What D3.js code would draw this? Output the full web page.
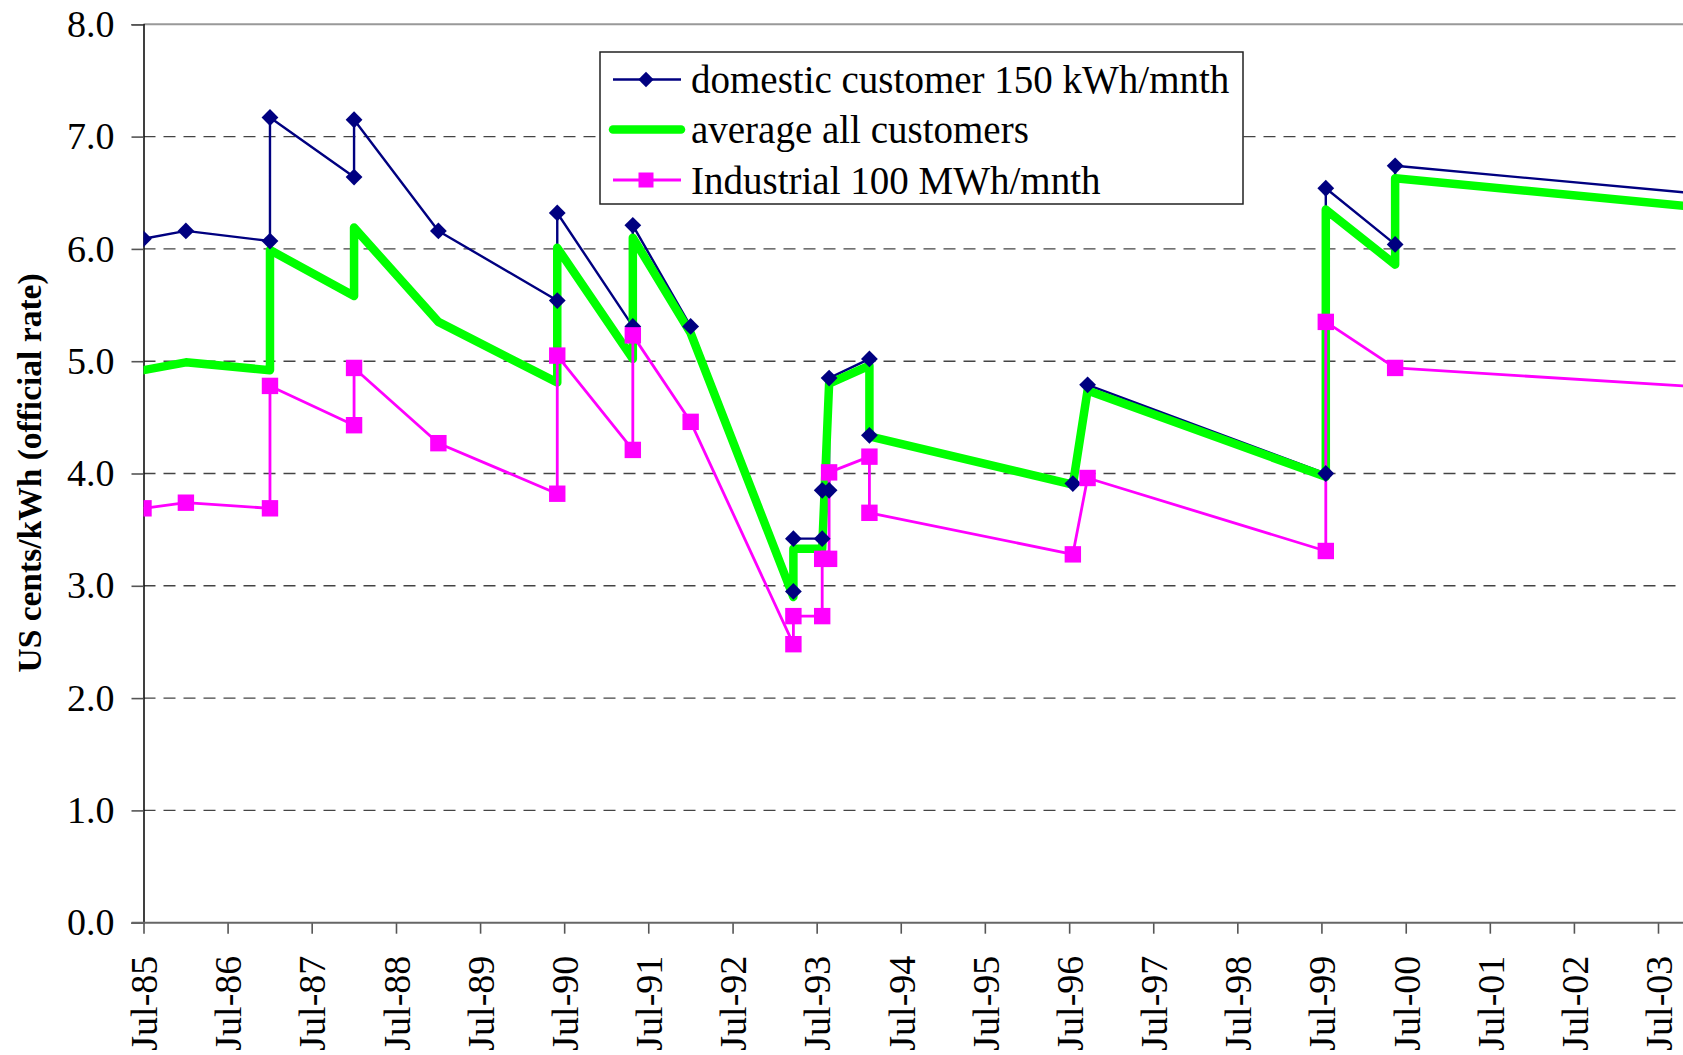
<!DOCTYPE html>
<html>
<head>
<meta charset="utf-8">
<script src="https://cdn.jsdelivr.net/npm/d3@7"></script>
<style>
  html, body { margin: 0; padding: 0; background: #fff; }
  svg { display: block; }
  text { font-family: "Liberation Serif", "Times New Roman", serif; fill: #000; }
</style>
</head>
<body>
<svg id="chart" width="1683" height="1055"></svg>
<script>
// ---------------- data ----------------
const xTickLabels = ["Jul-85","Jul-86","Jul-87","Jul-88","Jul-89","Jul-90","Jul-91","Jul-92","Jul-93",
  "Jul-94","Jul-95","Jul-96","Jul-97","Jul-98","Jul-99","Jul-00","Jul-01","Jul-02","Jul-03"];
const yTickValues = [0, 1, 2, 3, 4, 5, 6, 7, 8];

const seriesNames = ["domestic customer 150 kWh/mnth", "average all customers", "Industrial 100 MWh/mnth"];

const domesticDates = ["1985-07-01","1986-01-01","1987-01-01","1987-01-01","1988-01-01","1988-01-01",
  "1989-01-01","1990-06-01","1990-06-01","1991-04-25","1991-04-25","1992-01-01","1993-03-22","1993-03-22",
  "1993-07-25","1993-07-25","1993-08-24","1993-08-24","1994-02-15","1994-02-15","1996-07-17","1996-09-19",
  "1999-07-20","1999-07-20","2000-05-16","2000-05-16","2004-01-01"];
const domesticValues = [6.09,6.16,6.07,7.17,6.64,7.15,
  6.16,5.54,6.32,5.31,6.21,5.31,2.95,3.42,
  3.42,3.85,3.85,4.85,5.02,4.34,3.91,4.79,
  4.00,6.54,6.04,6.74,6.49];

const averageDates = ["1985-07-01","1986-01-01","1987-01-01","1987-01-01","1988-01-01","1988-01-01",
  "1989-01-01","1990-06-01","1990-06-01","1991-04-25","1991-04-25","1992-01-01","1993-03-22","1993-03-22",
  "1993-07-25","1993-08-24","1994-02-15","1994-02-15","1996-07-17","1996-09-19",
  "1999-07-20","1999-07-20","2000-05-16","2000-05-16","2004-01-01"];
const averageValues = [4.92,4.99,4.92,5.99,5.58,6.19,
  5.35,4.81,6.01,5.02,6.10,5.25,2.90,3.33,
  3.33,4.80,4.96,4.33,3.90,4.74,
  3.97,6.35,5.86,6.63,6.37];

const industrialDates = ["1985-07-01","1986-01-01","1987-01-01","1987-01-01","1988-01-01","1988-01-01",
  "1989-01-01","1990-06-01","1990-06-01","1991-04-25","1991-04-25","1992-01-01","1993-03-22","1993-03-22",
  "1993-07-25","1993-07-25","1993-08-24","1993-08-24","1994-02-15","1994-02-15","1996-07-17","1996-09-19",
  "1999-07-20","1999-07-20","2000-05-16","2004-01-01"];
const industrialValues = [3.69,3.74,3.69,4.78,4.43,4.94,
  4.27,3.82,5.05,4.21,5.23,4.46,2.48,2.73,
  2.73,3.24,3.24,4.01,4.15,3.65,3.28,3.96,
  3.31,5.35,4.94,4.77];

// ---------------- setup ----------------
const W = 1683, H = 1055;
const plot = { left: 143.5, top: 24.3, bottom: 922.7, right: W };
const svg = d3.select("#chart");

const parseISO = d3.utcParse("%Y-%m-%d");
const parseTick = d3.utcParse("%b-%y");
const tickDates = xTickLabels.map(parseTick);

const x = d3.scaleUtc()
  .domain([tickDates[0], tickDates[tickDates.length - 1]])
  .range([plot.left, 1658]);
const y = d3.scaleLinear().domain([0, 8]).range([plot.bottom, plot.top]);

const mk = (dates, vals) => dates.map((d, i) => ({ date: parseISO(d), value: vals[i] }));
const domestic = mk(domesticDates, domesticValues);
const average = mk(averageDates, averageValues);
const industrial = mk(industrialDates, industrialValues);

svg.append("defs").append("clipPath").attr("id", "plotclip")
  .append("rect").attr("x", plot.left).attr("y", 0).attr("width", W - plot.left).attr("height", plot.bottom + 2);

// gridlines (1..7)
const grid = svg.append("g");
grid.selectAll("line").data(yTickValues.filter(v => v > 0 && v < 8)).join("line")
  .attr("x1", plot.left).attr("x2", W)
  .attr("y1", d => y(d)).attr("y2", d => y(d))
  .attr("stroke", "#444").attr("stroke-width", 1.4).attr("stroke-dasharray", "12,8");

// top border
svg.append("line").attr("x1", plot.left).attr("x2", W).attr("y1", y(8)).attr("y2", y(8))
  .attr("stroke", "#999").attr("stroke-width", 2);

// y axis
const yAxis = d3.axisLeft(y).tickValues(yTickValues).tickSize(12).tickPadding(17)
  .tickFormat(d3.format(".1f"));
const gy = svg.append("g").attr("transform", `translate(${plot.left},0)`).call(yAxis);
gy.select(".domain").attr("stroke", "#111").attr("stroke-width", 1.6);
gy.selectAll(".tick line").attr("stroke", "#555").attr("stroke-width", 1.6);
gy.selectAll(".tick text").attr("font-size", 38).attr("font-family", "Liberation Serif").attr("fill", "#000");

// x axis
const xAxis = d3.axisBottom(x).tickValues(tickDates).tickSize(11).tickFormat((d, i) => xTickLabels[i]);
const gx = svg.append("g").attr("transform", `translate(0,${plot.bottom})`).call(xAxis);
gx.select(".domain").remove();
gx.append("line").attr("x1", plot.left - 12).attr("x2", W).attr("y1", 0).attr("y2", 0)
  .attr("stroke", "#666").attr("stroke-width", 2);
gx.selectAll(".tick line").attr("stroke", "#555").attr("stroke-width", 1.6);
gx.selectAll(".tick text")
  .attr("font-size", 38).attr("font-family", "Liberation Serif").attr("fill", "#000")
  .attr("text-anchor", "end")
  .attr("transform", "rotate(-90)")
  .attr("x", -33).attr("y", 0).attr("dy", "0.35em");

// y axis title
svg.append("text")
  .attr("transform", "translate(41,473) rotate(-90)")
  .attr("text-anchor", "middle")
  .attr("font-size", 33.5).attr("font-weight", "bold")
  .text("US cents/kWh (official rate)");

// ---------------- series ----------------
const line = d3.line().x(d => x(d.date)).y(d => y(d.value));
const lines = svg.append("g").attr("clip-path", "url(#plotclip)");
lines.append("path").datum(domestic).attr("d", line)
  .attr("fill", "none").attr("stroke", "#000080").attr("stroke-width", 2.4).attr("stroke-linejoin", "round");
lines.append("path").datum(average).attr("d", line)
  .attr("fill", "none").attr("stroke", "#00FF00").attr("stroke-width", 8.5)
  .attr("stroke-linejoin", "round").attr("stroke-linecap", "round");
lines.append("path").datum(industrial).attr("d", line)
  .attr("fill", "none").attr("stroke", "#FF00FF").attr("stroke-width", 2.8).attr("stroke-linejoin", "round");

const diamondPath = "M0,-8.4L8.4,0L0,8.4L-8.4,0Z";
const markers = svg.append("g").attr("clip-path", "url(#plotclip)");
markers.selectAll("path.dia").data(domestic).join("path").attr("class", "dia")
  .attr("d", diamondPath)
  .attr("transform", d => `translate(${x(d.date)},${y(d.value)})`)
  .attr("fill", "#000080");
markers.selectAll("rect.sq").data(industrial).join("rect").attr("class", "sq")
  .attr("x", d => x(d.date) - 8.2).attr("y", d => y(d.value) - 8.2)
  .attr("width", 16.4).attr("height", 16.4)
  .attr("fill", "#FF00FF");

// ---------------- legend ----------------
const lg = svg.append("g").attr("transform", "translate(600,52)");
lg.append("rect").attr("x", 0).attr("y", 0).attr("width", 643).attr("height", 152)
  .attr("fill", "#fff").attr("stroke", "#222").attr("stroke-width", 1.5);
const rowsY = [27.5, 77.5, 128];
const legendStyles = [
  { color: "#000080", width: 2.4, marker: "diamond" },
  { color: "#00FF00", width: 8.5, marker: null },
  { color: "#FF00FF", width: 2.8, marker: "square" }
];
seriesNames.forEach((name, i) => {
  const ry = rowsY[i];
  const st = legendStyles[i];
  lg.append("line").attr("x1", 13).attr("x2", 81).attr("y1", ry).attr("y2", ry)
    .attr("stroke", st.color).attr("stroke-width", st.width)
    .attr("stroke-linecap", st.marker ? "butt" : "round");
  if (st.marker === "diamond") {
    lg.append("path").attr("d", "M0,-7.7L7.7,0L0,7.7L-7.7,0Z")
      .attr("transform", `translate(46,${ry})`).attr("fill", st.color);
  } else if (st.marker === "square") {
    lg.append("rect").attr("x", 38.5).attr("y", ry - 7.5).attr("width", 15).attr("height", 15)
      .attr("fill", st.color);
  }
  lg.append("text").attr("x", 91).attr("y", ry).attr("dy", "0.35em")
    .attr("font-size", 39).text(name);
});
</script>
</body>
</html>
